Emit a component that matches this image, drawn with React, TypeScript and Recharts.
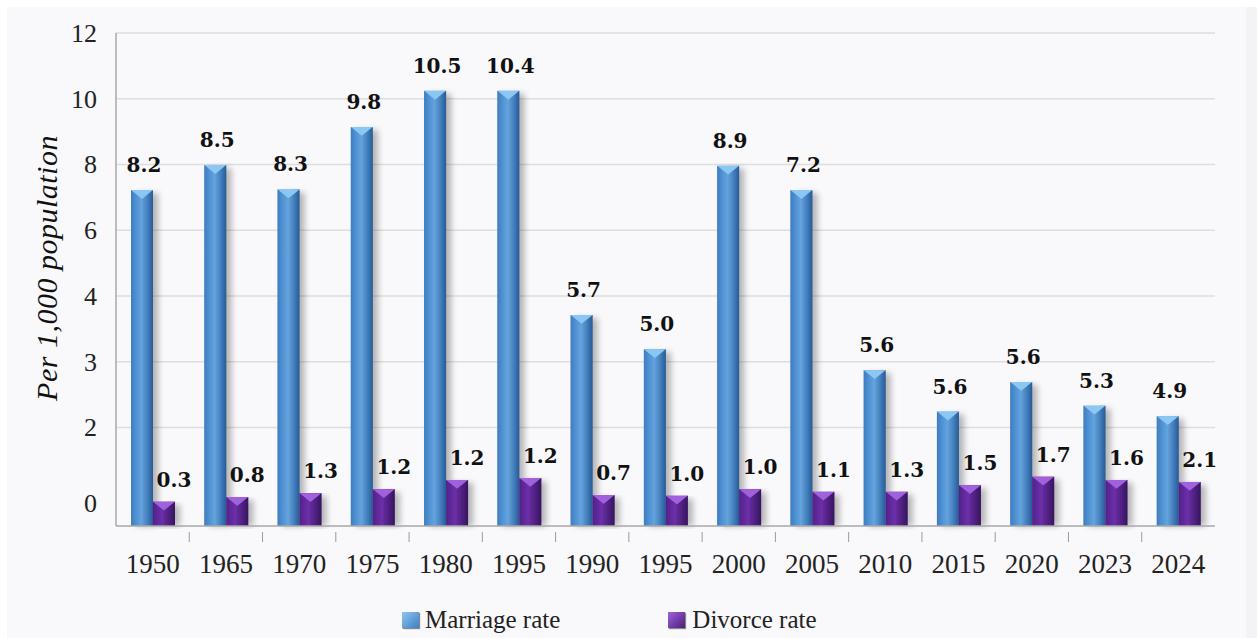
import { BarChart, Bar, XAxis, YAxis, CartesianGrid, Legend, LabelList, Label } from 'recharts';

// categories as printed on the axis (the source repeats 1995)
const years = ['1950', '1965', '1970', '1975', '1980', '1995', '1990', '1995', '2000', '2005', '2010', '2015', '2020', '2023', '2024'];

// printed value labels
const marriageLabels = ['8.2', '8.5', '8.3', '9.8', '10.5', '10.4', '5.7', '5.0', '8.9', '7.2', '5.6', '5.6', '5.6', '5.3', '4.9'];
const divorceLabels = ['0.3', '0.8', '1.3', '1.2', '1.2', '1.2', '0.7', '1.0', '1.0', '1.1', '1.3', '1.5', '1.7', '1.6', '2.1'];

// bar heights as drawn, in gridline steps above the baseline (the source axis is not linear)
const marriageHeights = [5.11, 5.49, 5.12, 6.07, 6.62, 6.62, 3.21, 2.69, 5.48, 5.11, 2.37, 1.74, 2.19, 1.83, 1.67];
const divorceHeights = [0.37, 0.44, 0.5, 0.56, 0.7, 0.73, 0.47, 0.46, 0.56, 0.52, 0.52, 0.62, 0.75, 0.7, 0.67];

// y tick positions (same units) and the text the source prints at them
const yTicks = [0.35, 1.5, 2.5, 3.5, 4.5, 5.5, 6.5, 7.5];
const yTickLabels = ['0', '2', '3', '4', '6', '8', '10', '12'];
const gridLines = [1.5, 2.5, 3.5, 4.5, 5.5, 6.5, 7.5];

const data = years.map((year, i) => ({
  idx: i,
  year,
  marriage: marriageHeights[i],
  divorce: divorceHeights[i],
  marriageLabel: marriageLabels[i],
  divorceLabel: divorceLabels[i],
}));

const serif = '"Liberation Serif", "Times New Roman", serif';
const boldSerif = '"DejaVu Serif", "Liberation Serif", serif';
const PLOT_LEFT = 116;
const PLOT_RIGHT = 1215;
const BAND = (PLOT_RIGHT - PLOT_LEFT) / years.length;

const BevelBar = (props: any) => {
  const { x, y, width, height, kind } = props;
  if (!height || height <= 0) return null;
  const blue = kind === 'marriage';
  const bevel = Math.min(width * 0.4, height / 2);
  return (
    <g>
      <rect x={x + 5} y={y + 3} width={width} height={height - 3} fill="#000" opacity={0.28} filter="url(#barShadow)" />
      <rect x={x} y={y} width={width} height={height} fill={blue ? 'url(#blueGrad)' : 'url(#purpleGrad)'} />
      <polygon
        points={`${x},${y} ${x + width},${y} ${x + width / 2},${y + bevel}`}
        fill={blue ? '#8cc6f2' : '#a261dc'}
      />
      <polygon
        points={`${x},${y} ${x + width / 2},${y + bevel} ${x + width / 2},${y + height} ${x},${y + height}`}
        fill={blue ? '#3f7fc2' : '#5b2595'}
        opacity={0.35}
      />
      <polygon
        points={`${x + width},${y} ${x + width / 2},${y + bevel} ${x + width / 2},${y + height} ${x + width},${y + height}`}
        fill={blue ? '#1f4f86' : '#2c0e4c'}
        opacity={0.25}
      />
    </g>
  );
};

const XTick = (props: any) => {
  const { x, y, payload } = props;
  const i = payload.value as number;
  return (
    <g>
      {i > 0 && <line x1={x - BAND / 2} x2={x - BAND / 2} y1={y - 2} y2={y + 8} stroke="#9a9a9a" strokeWidth={1} />}
      <text x={x} y={y + 39} textAnchor="middle" fontFamily={serif} fontSize={27} fill="#222">
        {years[i]}
      </text>
    </g>
  );
};

const YTick = (props: any) => {
  const { x, y, payload } = props;
  const i = yTicks.indexOf(payload.value);
  return (
    <text x={x} y={y + 9} textAnchor="end" fontFamily={serif} fontSize={26} fill="#222">
      {yTickLabels[i]}
    </text>
  );
};

const marriageValueLabel = (p: any) => (
  <text x={p.x + p.width / 2 + 2} y={p.y - 18} textAnchor="middle" fontFamily={boldSerif} fontWeight="bold" fontSize={20} fill="#111">
    {p.value}
  </text>
);

const divorceValueLabel = (p: any) => (
  <text x={p.x + p.width / 2 + 10} y={p.y - 15} textAnchor="middle" fontFamily={boldSerif} fontWeight="bold" fontSize={20} fill="#111">
    {p.value}
  </text>
);

const LegendContent = () => (
  <div style={{ display: 'flex', alignItems: 'center', fontFamily: serif, fontSize: 25, lineHeight: '30px', color: '#222', whiteSpace: 'nowrap' }}>
    <span style={{ width: 17, height: 16, background: 'linear-gradient(135deg, #8cc6f2, #3f7fc2)', display: 'inline-block', marginRight: 6, boxShadow: '1px 1px 1px #888' }} />
    <span style={{ marginRight: 108 }}>Marriage rate</span>
    <span style={{ width: 17, height: 16, background: 'linear-gradient(135deg, #a261dc, #4a1f7a)', display: 'inline-block', marginRight: 7, boxShadow: '1px 1px 1px #888' }} />
    <span>Divorce rate</span>
  </div>
);

export default function App() {
  return (
    <div
      style={{
        position: 'fixed',
        left: 0,
        top: 0,
        width: 1257,
        height: 638,
        background: 'linear-gradient(to bottom, #ffffff 0 7px, #f9f8fa 7px)',
        overflow: 'visible',
      }}
    >
      <div style={{ position: 'absolute', left: 0, top: 0, width: 7, height: 638, background: '#ffffff' }} />
      <div style={{ position: 'absolute', left: 1246, top: 7, width: 11, height: 631, background: '#f3f2f5' }} />
      <BarChart
        width={1257}
        height={638}
        data={data}
        margin={{ top: 33, right: 42, bottom: 52, left: 56 }}
        barGap={0}
        barSize={22}
        style={{ overflow: 'visible' }}
      >
        <defs>
          <linearGradient id="blueGrad" x1="0" y1="0" x2="1" y2="0">
            <stop offset="0%" stopColor="#3d7cbf" />
            <stop offset="25%" stopColor="#5b9fdd" />
            <stop offset="50%" stopColor="#7ab9ef" />
            <stop offset="75%" stopColor="#4f90d2" />
            <stop offset="100%" stopColor="#2a5e99" />
          </linearGradient>
          <linearGradient id="purpleGrad" x1="0" y1="0" x2="1" y2="0">
            <stop offset="0%" stopColor="#4e1f85" />
            <stop offset="40%" stopColor="#7435b3" />
            <stop offset="60%" stopColor="#6a2ea6" />
            <stop offset="100%" stopColor="#3b1666" />
          </linearGradient>
          <filter id="barShadow" x="-50%" y="-10%" width="200%" height="120%">
            <feGaussianBlur stdDeviation="3" />
          </filter>
        </defs>
        <CartesianGrid vertical={false} horizontalValues={gridLines} stroke="#dedede" strokeWidth={1.5} />
        <XAxis
          dataKey="idx"
          type="category"
          axisLine={{ stroke: '#a8a8a8', strokeWidth: 1.5 }}
          tickLine={false}
          tick={<XTick />}
          interval={0}
        />
        <YAxis
          type="number"
          domain={[0, 7.5]}
          ticks={yTicks}
          width={60}
          tickSize={0}
          tickMargin={19}
          tickLine={false}
          axisLine={{ stroke: '#a8a8a8', strokeWidth: 1.5 }}
          tick={<YTick />}
          interval={0}
        >
          <Label
            content={() => (
              <text
                x={57}
                y={268}
                transform="rotate(-90 57 268)"
                textAnchor="middle"
                fontFamily={serif}
                fontStyle="italic"
                fontSize={30}
                letterSpacing={0.5}
                fill="#111"
              >
                Per 1,000 population
              </text>
            )}
          />
        </YAxis>
        <Legend
          verticalAlign="bottom"
          wrapperStyle={{ left: 402, top: 605, width: 'auto', bottom: 'auto', overflow: 'visible' }}
          content={<LegendContent />}
        />
        <Bar dataKey="marriage" name="Marriage rate" fill="#5b9fdd" isAnimationActive={false} shape={<BevelBar kind="marriage" />}>
          <LabelList dataKey="marriageLabel" content={marriageValueLabel} />
        </Bar>
        <Bar dataKey="divorce" name="Divorce rate" fill="#7435b3" isAnimationActive={false} shape={<BevelBar kind="divorce" />}>
          <LabelList dataKey="divorceLabel" content={divorceValueLabel} />
        </Bar>
      </BarChart>
    </div>
  );
}
